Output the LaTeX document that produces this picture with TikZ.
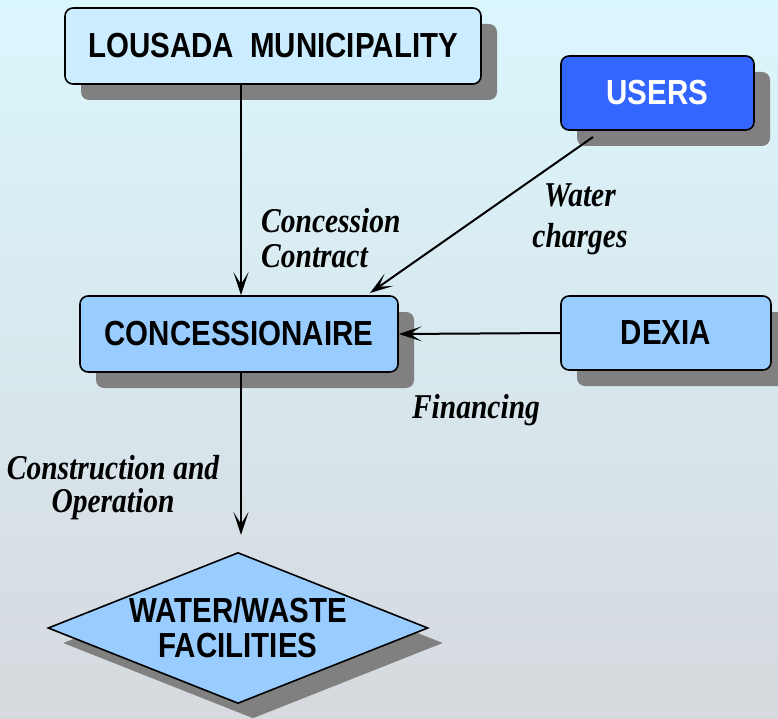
\documentclass[tikz,border=0pt]{standalone}
\usepackage{fontspec}
\setmainfont{Liberation Sans}
\newfontfamily\labelfont{Liberation Serif}
\usepackage{graphicx}
\usepackage{tikz}
\usetikzlibrary{arrows.meta,shapes.geometric,shadows}
\definecolor{boxlight}{RGB}{204,236,255}
\definecolor{boxmid}{RGB}{153,204,255}
\definecolor{boxdark}{RGB}{51,102,255}
\definecolor{shadowgray}{RGB}{128,128,128}
\definecolor{bgtop}{RGB}{218,247,253}
\definecolor{bgmid}{RGB}{226,236,246}
\definecolor{bgbottom}{RGB}{214,217,222}
\newcommand{\tall}[1]{\scalebox{1}[1.18]{#1}}

\begin{document}
\begin{tikzpicture}[x=1pt,y=1pt,>={Stealth[length=23pt,width=15pt,inset=12pt]},
  box/.style={rectangle,rounded corners=8pt,draw,line width=1.6pt,inner sep=0pt,
    font=\fontsize{29.5}{35}\selectfont\bfseries,
    drop shadow={shadow xshift=16pt,shadow yshift=-16pt,fill=shadowgray,opacity=1}},
  flow/.style={->,line width=2pt},
  note/.style={font=\labelfont\fontsize{29.5}{35}\selectfont\bfseries\itshape,inner sep=0pt}]
          \shade[top color=bgtop,middle color=bgmid,bottom color=bgbottom] (0,0) rectangle (778,-719);
          \useasboundingbox (0,0) rectangle (778,-719);
          \node[box,fill=boxlight,minimum width=416pt,minimum height=76pt] (lousada) at (273,-46) {\tall{LOUSADA\ \ MUNICIPALITY}};
          \node[box,fill=boxdark,text=white,minimum width=193pt,minimum height=74pt] (users) at (657.5,-93) {\tall{USERS}};
          \node[box,fill=boxmid,minimum width=318pt,minimum height=76pt] (conc) at (239,-334) {\tall{CONCESSIONAIRE}};
          \node[box,fill=boxmid,minimum width=210pt,minimum height=74pt] (dexia) at (666,-333) {\tall{DEXIA}};
          \node[diamond,draw,line width=1.6pt,fill=boxmid,aspect=2.5,inner sep=0pt,minimum width=380pt,minimum height=151pt,
            align=center,font=\fontsize{29.5}{35}\selectfont\bfseries,
            drop shadow={shadow xshift=15pt,shadow yshift=-15pt,fill=shadowgray,opacity=1}] (facilities) at (238,-628) {\tall{WATER/WASTE}\\\tall{FACILITIES}};
          \coordinate (usersfoot) at (593,-137);
          \coordinate (conctop) at (370,-293);
          \coordinate (facilitiestop) at (241,-535);
          \draw[flow] (facilitiestop |- lousada.south) -- (facilitiestop |- conc.north);
          \draw[flow] (usersfoot) -- (conctop);
          \draw[flow] (dexia.west) -- (conc.east);
          \draw[flow] (facilitiestop |- conc.south) -- (facilitiestop);
          \node[note,align=left,anchor=west] (contract) at (261,-238) {\tall{Concession}\\\tall{Contract}};
          \node[note,align=center,font=\labelfont\fontsize{29.5}{41}\selectfont\bfseries\itshape] (charges) at (580,-219) {\tall{Water}\\\tall{charges}};
          \node[note] (financing) at (476,-410) {\tall{Financing}};
          \node[note,align=center,font=\labelfont\fontsize{29.5}{33}\selectfont\bfseries\itshape] (construction) at (113,-488) {\tall{Construction and}\\\tall{Operation}};
\end{tikzpicture}
\end{document}
